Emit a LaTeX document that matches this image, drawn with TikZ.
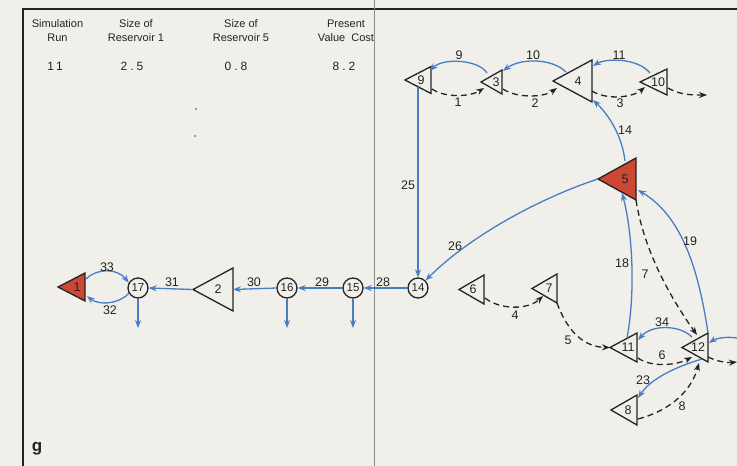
\documentclass[tikz,border=0pt]{standalone}
\usepackage{fontspec}
\setmainfont{Liberation Sans}
\usetikzlibrary{arrows.meta,calc}
\definecolor{paper}{RGB}{241,239,233}
\definecolor{lineblue}{RGB}{72,125,195}
\definecolor{resred}{RGB}{205,72,52}
\definecolor{foldgray}{RGB}{140,140,136}
\definecolor{ink}{RGB}{35,35,35}
\definecolor{speck}{RGB}{70,160,95}
\tikzset{
  tribox/.style={rectangle,inner sep=0pt,outer sep=0pt},
  triline/.style={draw=ink,line width=1.3pt,line join=miter},
  redtri/.style={triline,fill=resred},
  plaintri/.style={triline},
  lab/.style={font=\fontsize{12.5}{13}\selectfont,inner sep=0pt,text=ink},
  circ/.style={circle,draw=ink,line width=1.3pt,minimum size=20pt,inner sep=0pt,font=\fontsize{11.5}{12}\selectfont,text=ink},
  flow/.style={draw=lineblue,line width=1.3pt,-{Stealth[length=8pt,width=6pt]}},
  spill/.style={draw=ink,line width=1.3pt,dash pattern=on 6pt off 4pt,-{Stealth[length=8pt,width=6pt]}},
  elab/.style={font=\fontsize{12.5}{13}\selectfont,inner sep=0pt,text=ink},
  hdr/.style={font=\fontsize{11}{13.5}\selectfont,align=center,inner sep=0pt,text=ink},
  val/.style={font=\fontsize{12}{12}\selectfont\addfontfeature{LetterSpace=25},inner sep=0pt,text=ink},
}
% name, cx, cy, width, height, label, label offset, style
\newcommand\Tri[8]{%
  \node[tribox,minimum width=#4pt,minimum height=#5pt] (#1) at (#2,#3) {};
  \draw[#8] (#1.west) -- (#1.north east) -- (#1.south east) -- cycle;
  \node[lab] (#1l) at ([xshift=-#7pt]#1.east) {#6};
}
\begin{document}
\begin{tikzpicture}[x=1pt,y=-1pt]
\useasboundingbox (0,0) rectangle (737,466);
\fill[paper] (0,0) rectangle (737,466);
% frame and fold
\draw[ink,line width=1.5pt] (23,466) -- (23,9) -- (737,9);
\draw[foldgray,line width=1.6pt] (374.5,0) -- (374.5,466);
% specks
\fill[speck] (196,109) circle (1.2pt);
\fill[speck] (195,136) circle (1.2pt);
% header
\node[hdr] (h1) at (57.5,30.75) {Simulation\\Run};
\node[hdr] (h2) at (136,30.75) {Size of\\Reservoir 1};
\node[hdr] (h3) at (241,30.75) {Size of\\Reservoir 5};
\node[hdr] (h4) at (346,30.75) {Present\\Value\ \ Cost};
\node[val] (v1) at (55,66) {11};
\node[val] (v2) at (132,66) {2.5};
\node[val] (v3) at (236,66) {0.8};
\node[val] (v4) at (344,66) {8.2};
\node[font=\bfseries\fontsize{17}{17}\selectfont,inner sep=0pt,text=ink] (g) at (37,449) {g};
% triangles
\Tri{t9}{418}{80}{26}{27}{9}{10}{plaintri}
\Tri{t3}{491.5}{82}{21}{24}{3}{6}{plaintri}
\Tri{t4}{572.5}{81}{39}{42}{4}{14}{plaintri}
\Tri{t10}{653.5}{82}{27}{26}{10}{9}{plaintri}
\Tri{t5}{617}{179}{38}{42}{5}{11}{redtri}
\Tri{t6}{471.5}{289.5}{25}{29}{6}{11}{plaintri}
\Tri{t7}{544.5}{288.5}{25}{29}{7}{8}{plaintri}
\Tri{t11}{623.5}{347.5}{27}{29}{11}{9}{plaintri}
\Tri{t12}{695}{347.5}{26}{29}{12}{10}{plaintri}
\Tri{t8}{624}{410}{26}{30}{8}{9}{plaintri}
\Tri{t2}{213}{289.5}{40}{43}{2}{15}{plaintri}
\Tri{t1}{71.5}{287}{27}{28}{1}{8}{redtri}
% circles
\node[circ] (c17) at (138,288) {17};
\node[circ] (c16) at (287,288) {16};
\node[circ] (c15) at (353,288) {15};
\node[circ] (c14) at (418,288) {14};
% free ends
\coordinate (out1) at (707,95);
\coordinate (in1) at (737,338);
\coordinate (out2) at (737,362);
\coordinate (d17) at (138,328);
\coordinate (d16) at (287,328);
\coordinate (d15) at (353,328);
% top row
\draw[flow] ($(t3)+(-4.5,-9)$) .. controls (478,59) and (442,58) .. ($(t9)+(12,-9)$);
\draw[flow] ($(t4)+(-6.5,-9)$) .. controls (552,58) and (520,58) .. ($(t3)+(11.5,-11)$);
\draw[flow] ($(t10)+(-3.5,-9)$) .. controls (638,58) and (606,58) .. ($(t4)+(20.5,-15)$);
\draw[spill] ($(t9)+(14,9)$) .. controls (445,98) and (470,97) .. ($(t3)+(-7.5,6)$);
\draw[spill] ($(t3)+(11.5,7)$) .. controls (516,98) and (543,98) .. ($(t4)+(-15.5,7)$);
\draw[spill] ($(t4)+(19.5,10)$) .. controls (606,100) and (632,98) .. ($(t10)+(-8.5,5)$);
\draw[spill] ($(t10)+(14.5,6)$) .. controls (680,95) and (692,95) .. (out1);
\draw[flow] ($(t5)+(8,-18)$) .. controls (622,135) and (608,114) .. ($(t4)+(20.5,19)$);
\draw[flow] ($(t9)+(0,7)$) -- (c14.north);
\draw[flow] (t5.west) .. controls (540,198) and (470,236) .. (c14.45);
% main channel
\draw[flow] (c14.west) -- (c15.east);
\draw[flow] (c15.west) -- (c16.east);
\draw[flow] (c16.west) -- (t2.east);
\draw[flow] (t2.west) -- (c17.east);
\draw[flow] ($(t1)+(14.5,-8)$) .. controls (97,268) and (117,268) .. (c17.150);
\draw[flow] (c17.210) .. controls (118,305) and (98,305) .. ($(t1)+(15.5,9)$);
\draw[flow] (c17.south) -- (d17);
\draw[flow] (c16.south) -- (d16);
\draw[flow] (c15.south) -- (d15);
% lower right
\draw[flow] ($(t11)+(3.5,-9.5)$) .. controls (636,290) and (632,230) .. ($(t5)+(5,14)$);
\draw[spill] (t5.south east) .. controls (643,245) and (665,290) .. ($(t12)+(2,-12.5)$);
\draw[flow] (t12.north east) .. controls (698,265) and (680,215) .. ($(t5)+(21,11)$);
\draw[flow] ($(t12)+(-3,-10.5)$) .. controls (680,325) and (652,324) .. ($(t11)+(14.5,-7.5)$);
\draw[spill] ($(t11)+(14.5,10.5)$) .. controls (650,367) and (675,366) .. ($(t12)+(-3,9.5)$);
\draw[spill] (t7.south east) .. controls (568,333) and (585,347) .. (t11.west);
\draw[spill] ($(t6)+(13.5,8.5)$) .. controls (500,310) and (528,310) .. ($(t7)+(-1.5,7.5)$);
\draw[flow] ($(t12)+(7,11.5)$) .. controls (672,368) and (650,380) .. ($(t8)+(14,-12)$);
\draw[spill] ($(t8)+(14,9)$) .. controls (665,412) and (690,395) .. ($(t12)+(4,15.5)$);
\draw[flow] (in1) .. controls (725,336) and (715,339) .. ($(t12)+(14,-4.5)$);
\draw[spill] ($(t12)+(13,9.5)$) .. controls (716,361) and (726,363) .. (out2);
% edge labels
\node[elab] (l9) at (459,55) {9};
\node[elab] (l10) at (533,55) {10};
\node[elab] (l11) at (619,55) {11};
\node[elab] (l1) at (458,102) {1};
\node[elab] (l2) at (535,103) {2};
\node[elab] (l3) at (620,103) {3};
\node[elab] (l14) at (625,130) {14};
\node[elab] (l25) at (408,185) {25};
\node[elab] (l26) at (455,246) {26};
\node[elab] (l28) at (383,282) {28};
\node[elab] (l29) at (322,282) {29};
\node[elab] (l30) at (254,282) {30};
\node[elab] (l31) at (172,282) {31};
\node[elab] (l33) at (107,267) {33};
\node[elab] (l32) at (110,310) {32};
\node[elab] (l18) at (622,263) {18};
\node[elab] (l7) at (645,274) {7};
\node[elab] (l19) at (690,241) {19};
\node[elab] (l34) at (662,322) {34};
\node[elab] (l6) at (662,355) {6};
\node[elab] (l5) at (568,340) {5};
\node[elab] (l4) at (515,315) {4};
\node[elab] (l23) at (643,380) {23};
\node[elab] (l8) at (682,406) {8};
\end{tikzpicture}
\end{document}
